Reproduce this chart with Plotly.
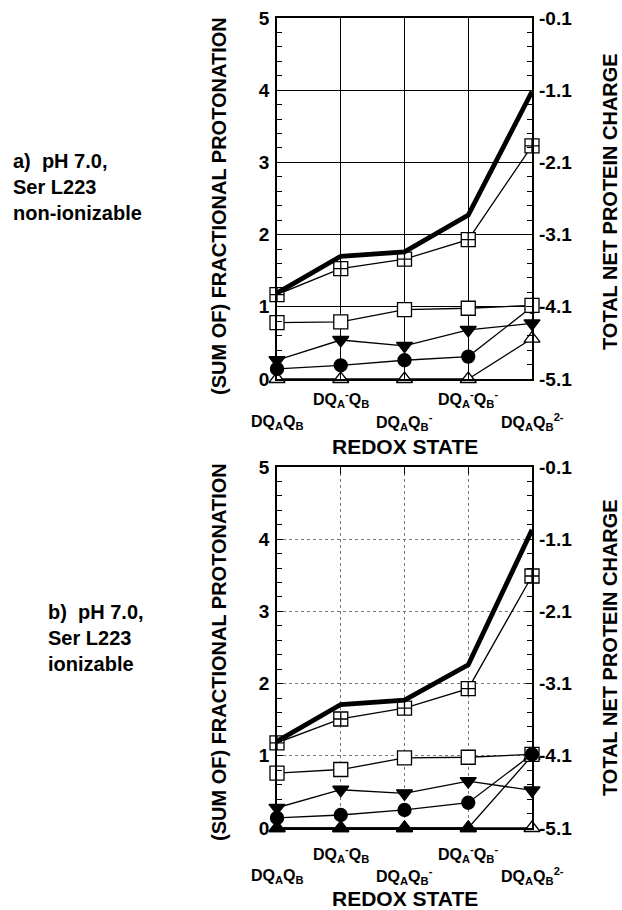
import plotly.graph_objects as go

W, H = 622, 910

# ---------------- data ----------------
states = [0, 1, 2, 3, 4]
state_labels = [
    "DQ<sub>A</sub>Q<sub>B</sub>",
    "DQ<sub>A</sub><sup>-</sup>Q<sub>B</sub>",
    "DQ<sub>A</sub>Q<sub>B</sub><sup>-</sup>",
    "DQ<sub>A</sub><sup>-</sup>Q<sub>B</sub><sup>-</sup>",
    "DQ<sub>A</sub>Q<sub>B</sub><sup>2-</sup>",
]
left_ticks = [0, 1, 2, 3, 4, 5]
right_ticks = [-5.1, -4.1, -3.1, -2.1, -1.1, -0.1]

# panel a) Ser L223 non-ionizable
a_charge = [-3.91, -3.40, -3.34, -2.83, -1.12]      # thick line, right axis
a_sum = [1.17, 1.53, 1.66, 1.93, 3.23]               # crossed squares
a_square = [0.78, 0.79, 0.96, 0.98, 1.02]            # open squares
a_down = [0.26, 0.54, 0.46, 0.68, 0.77]              # filled down-triangles
a_circle = [0.14, 0.19, 0.26, 0.31, 1.0]             # filled circles
a_up_open = [0.0, 0.0, 0.0, 0.0, 0.56]               # open up-triangles

# panel b) Ser L223 ionizable
b_charge = [-3.90, -3.39, -3.33, -2.84, -0.97]
b_sum = [1.18, 1.51, 1.66, 1.93, 3.49]
b_square = [0.76, 0.81, 0.97, 0.98, 1.02]
b_down = [0.28, 0.53, 0.48, 0.65, 0.52]
b_circle = [0.14, 0.18, 0.25, 0.35, 1.02]
b_up_filled = [0.0, 0.0, 0.0, 0.0, 1.0]
b_up_open = [0.0, 0.0, 0.0, 0.0, 0.0]

FONT = "Liberation Sans"

def px_x(p):
    return p / W

def px_y(p):
    return 1 - p / H

fig = go.Figure()

def line_trace(x, y, xa, ya, symbol, fill, size, lw=1.3, mlw=1.3):
    return go.Scatter(
        x=x, y=y, xaxis=xa, yaxis=ya, mode="lines+markers",
        line=dict(color="black", width=lw),
        marker=dict(symbol=symbol, size=size, color=fill,
                    line=dict(color="black", width=mlw)),
        cliponaxis=False, showlegend=False, hoverinfo="skip")

# ---- panel a ----
fig.add_trace(line_trace(states, a_up_open, "x", "y", "triangle-up", "white", 14))
fig.add_trace(line_trace(states, a_circle, "x", "y", "circle", "black", 13))
fig.add_trace(line_trace(states, a_down, "x", "y", "triangle-down", "black", 14))
fig.add_trace(line_trace(states, a_square, "x", "y", "square", "white", 14))
fig.add_trace(line_trace(states, a_sum, "x", "y", "square-cross", "white", 14))
fig.add_trace(go.Scatter(x=states, y=a_charge, xaxis="x", yaxis="y2", mode="lines",
                         line=dict(color="black", width=4.8), cliponaxis=False,
                         showlegend=False, hoverinfo="skip"))

# ---- panel b ----
fig.add_trace(line_trace(states, b_up_open, "x2", "y3", "triangle-up", "white", 14))
fig.add_trace(line_trace(states, b_up_filled, "x2", "y3", "triangle-up", "black", 14))
fig.add_trace(line_trace(states, b_down, "x2", "y3", "triangle-down", "black", 14))
fig.add_trace(line_trace(states, b_square, "x2", "y3", "square", "white", 14))
fig.add_trace(line_trace(states, b_circle, "x2", "y3", "circle", "black", 13))
fig.add_trace(line_trace(states, b_sum, "x2", "y3", "square-cross", "white", 14))
fig.add_trace(go.Scatter(x=states, y=b_charge, xaxis="x2", yaxis="y4", mode="lines",
                         line=dict(color="black", width=4.8), cliponaxis=False,
                         showlegend=False, hoverinfo="skip"))

x_dom = [px_x(277), px_x(532)]
a_dom = [px_y(379), px_y(18)]
b_dom = [px_y(828), px_y(467)]

tickfont = dict(family=FONT, size=19, color="black", weight="bold")

def xaxis(anchor, gridstyle):
    d = dict(domain=x_dom, anchor=anchor, range=[0, 4], tickvals=states,
             showticklabels=False, showline=True, linecolor="black", linewidth=1.6,
             mirror="ticks", ticks="inside", ticklen=7, tickcolor="black", tickwidth=1.3,
             showgrid=True, zeroline=False, fixedrange=True, automargin=False)
    d.update(gridstyle)
    return d

def yleft(anchor, dom, gridstyle):
    d = dict(domain=dom, anchor=anchor, range=[0, 5], tickvals=left_ticks,
             tickfont=tickfont, showline=True, linecolor="black", linewidth=1.6,
             mirror=True, ticks="inside", ticklen=6, tickcolor="black", tickwidth=1.3,
             minor=dict(ticks="inside", ticklen=5, dtick=0.2, tick0=0, tickcolor="black",
                        tickwidth=1.2, showgrid=False),
             showgrid=True, zeroline=False, ticklabelstandoff=2, fixedrange=True,
             automargin=False)
    d.update(gridstyle)
    return d

def yright(overlay, anchor, dom):
    return dict(domain=dom, anchor=anchor, overlaying=overlay, side="right",
                range=[-5.1, -0.1], tickvals=right_ticks,
                ticktext=[f"{v:.1f}" for v in right_ticks],
                tickfont=tickfont, showline=False, ticks="inside", ticklen=6,
                tickcolor="black", tickwidth=1.3,
                minor=dict(ticks="inside", ticklen=5, dtick=0.2, tick0=-0.1,
                           tickcolor="black", tickwidth=1.2, showgrid=False),
                showgrid=False, zeroline=False, ticklabelstandoff=6, fixedrange=True,
                automargin=False)

solid_grid = dict(gridcolor="black", gridwidth=1)
dot_grid = dict(gridcolor="#777777", gridwidth=1, griddash="dot")

fig.update_layout(
    width=W, height=H, margin=dict(l=0, r=0, t=0, b=0, pad=0, autoexpand=False),
    paper_bgcolor="white", plot_bgcolor="white", showlegend=False,
    xaxis=xaxis("y", solid_grid),
    yaxis=yleft("x", a_dom, solid_grid),
    yaxis2=yright("y", "x", a_dom),
    xaxis2=xaxis("y3", dot_grid),
    yaxis3=yleft("x2", b_dom, dot_grid),
    yaxis4=yright("y3", "x2", b_dom),
)

ann = []
labfont = dict(family=FONT, size=16, color="black", weight="bold")
bigfont = dict(family=FONT, size=21, color="black", weight="bold")
titlefont = dict(family=FONT, size=20, color="black", weight="bold")
sidefont = dict(family=FONT, size=20, color="black", weight="bold")

panels = [
    dict(xa="x", rows=(420, 397), redox=446, ytitle=206, left=11,
         text="a)  pH 7.0,<br>Ser L223<br>non-ionizable", tl=187),
    dict(xa="x2", rows=(874, 852), redox=898, ytitle=652, left=46,
         text="b)  pH 7.0,<br>Ser L223<br>ionizable", tl=638),
]
for p in panels:
    for i, lab in enumerate(state_labels):
        ann.append(dict(x=states[i], xref=p["xa"], y=px_y(p["rows"][i % 2] + 2), yref="paper",
                        text=lab, showarrow=False, font=labfont,
                        xanchor="center", yanchor="middle"))
    ann.append(dict(x=px_x(405), xref="paper", y=px_y(p["redox"]), yref="paper",
                    text="REDOX STATE", showarrow=False, font=bigfont,
                    xanchor="center", yanchor="middle"))
    ann.append(dict(x=px_x(219), xref="paper", y=px_y(p["ytitle"]), yref="paper",
                    text="(SUM OF) FRACTIONAL PROTONATION", textangle=-90,
                    showarrow=False, font=titlefont, xanchor="center", yanchor="middle"))
    ann.append(dict(x=px_x(610), xref="paper", y=px_y(p["ytitle"] - 4), yref="paper",
                    text="TOTAL NET PROTEIN CHARGE", textangle=-90,
                    showarrow=False, font=titlefont, xanchor="center", yanchor="middle"))
    ann.append(dict(x=px_x(p["left"]), xref="paper", y=px_y(p["tl"]), yref="paper",
                    text=p["text"], showarrow=False, font=sidefont, align="left",
                    xanchor="left", yanchor="middle"))

fig.update_layout(annotations=ann)
fig.write_html("out.html")
